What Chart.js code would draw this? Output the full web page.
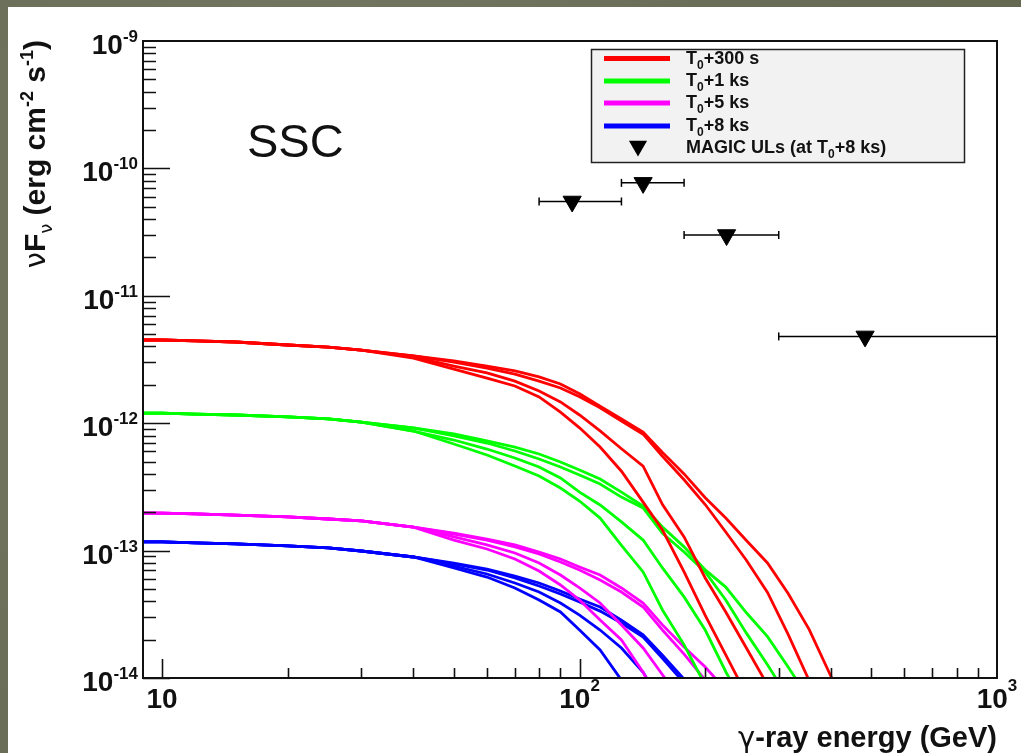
<!DOCTYPE html>
<html>
<head>
<meta charset="utf-8">
<script src="https://cdn.jsdelivr.net/npm/chart.js@4.4.0/dist/chart.umd.min.js"></script>
<style>
  html, body { margin: 0; padding: 0; }
  body { width: 1021px; height: 753px; overflow: hidden; position: relative;
         background: radial-gradient(circle at 30% 40%, #7a7e69 0%, #6a6e59 60%, #63674f 100%); }
  #panel { position: absolute; left: 8px; top: 7px; width: 1013px; height: 746px; background: #fff; }
  #sed { position: absolute; left: 0; top: 0; }
</style>
</head>
<body>
<div id="panel"></div>
<canvas id="sed" width="1021" height="753" style="width:1021px;height:753px"></canvas>
<script>
// energy grid (GeV) shared by the model curves
const energy = [9, 10, 12, 15, 20, 25, 30, 40, 50, 60, 70, 80, 90, 100, 112, 126, 142, 158, 178, 200, 224, 251, 282, 316, 355, 398, 447];

// nuFnu (erg cm-2 s-1), four model curves per epoch
const fluxT300s = [
  [4.5e-12, 4.5e-12, 4.42e-12, 4.34e-12, 4.11e-12, 3.96e-12, 3.75e-12, 3.37e-12, 3.08e-12, 2.81e-12, 2.57e-12, 2.31e-12, 2.03e-12, 1.70e-12, 1.36e-12, 1.08e-12, 8.5e-13, 5.9e-13, 4.0e-13, 2.6e-13, 1.8e-13, 1.2e-13, 8.0e-14, 4.6e-14, 2.4e-14, 1.07e-14, 4.7e-15],
  [4.5e-12, 4.5e-12, 4.42e-12, 4.34e-12, 4.11e-12, 3.96e-12, 3.75e-12, 3.37e-12, 3.02e-12, 2.71e-12, 2.43e-12, 2.14e-12, 1.89e-12, 1.61e-12, 1.32e-12, 1.04e-12, 8.2e-13, 5.5e-13, 3.6e-13, 2.3e-13, 1.4e-13, 8.4e-14, 4.7e-14, 2.2e-14, 9.5e-15],
  [4.5e-12, 4.5e-12, 4.42e-12, 4.34e-12, 4.11e-12, 3.96e-12, 3.75e-12, 3.31e-12, 2.81e-12, 2.48e-12, 2.14e-12, 1.79e-12, 1.47e-12, 1.16e-12, 8.7e-13, 6.3e-13, 4.6e-13, 2.3e-13, 1.28e-13, 6.1e-14, 3.3e-14, 1.72e-14, 8.8e-15],
  [4.5e-12, 4.5e-12, 4.42e-12, 4.34e-12, 4.11e-12, 3.96e-12, 3.75e-12, 3.24e-12, 2.66e-12, 2.26e-12, 1.96e-12, 1.61e-12, 1.22e-12, 9.2e-13, 6.5e-13, 4.2e-13, 2.4e-13, 1.45e-13, 6.8e-14, 3.1e-14, 1.52e-14, 7.4e-15]
];
const fluxT1ks = [
  [1.20e-12, 1.20e-12, 1.18e-12, 1.16e-12, 1.12e-12, 1.08e-12, 1.02e-12, 9.17e-13, 8.23e-13, 7.25e-13, 6.50e-13, 5.73e-13, 4.96e-13, 4.29e-13, 3.65e-13, 2.88e-13, 2.24e-13, 1.53e-13, 1.07e-13, 7.06e-14, 5.17e-14, 3.25e-14, 2.11e-14, 1.22e-14, 6.8e-15],
  [1.20e-12, 1.20e-12, 1.18e-12, 1.16e-12, 1.12e-12, 1.08e-12, 1.02e-12, 9.17e-13, 7.94e-13, 6.99e-13, 6.05e-13, 5.24e-13, 4.53e-13, 3.92e-13, 3.33e-13, 2.63e-13, 2.16e-13, 1.37e-13, 9.75e-14, 6.8e-14, 4.1e-14, 2.25e-14, 1.27e-14, 7.0e-15],
  [1.20e-12, 1.20e-12, 1.18e-12, 1.16e-12, 1.12e-12, 1.08e-12, 1.02e-12, 8.68e-13, 7.38e-13, 6.27e-13, 5.33e-13, 4.53e-13, 3.72e-13, 2.88e-13, 2.28e-13, 1.68e-13, 1.21e-13, 7.31e-14, 4.33e-14, 2.38e-14, 1.12e-14, 5.7e-15],
  [1.20e-12, 1.20e-12, 1.18e-12, 1.16e-12, 1.12e-12, 1.08e-12, 1.02e-12, 8.68e-13, 6.87e-13, 5.63e-13, 4.61e-13, 3.85e-13, 3.10e-13, 2.45e-13, 1.80e-13, 1.10e-13, 6.8e-14, 3.42e-14, 1.82e-14, 8.8e-15]
];
const fluxT5ks = [
  [1.97e-13, 1.97e-13, 1.94e-13, 1.90e-13, 1.84e-13, 1.77e-13, 1.71e-13, 1.53e-13, 1.37e-13, 1.23e-13, 1.11e-13, 9.75e-14, 8.59e-14, 7.44e-14, 6.43e-14, 5.09e-14, 3.88e-14, 2.61e-14, 1.75e-14, 1.22e-14, 8.06e-15],
  [1.97e-13, 1.97e-13, 1.94e-13, 1.90e-13, 1.84e-13, 1.77e-13, 1.71e-13, 1.53e-13, 1.35e-13, 1.21e-13, 1.07e-13, 9.40e-14, 8.14e-14, 7.04e-14, 5.88e-14, 4.73e-14, 3.61e-14, 2.38e-14, 1.54e-14, 9.63e-15],
  [1.97e-13, 1.97e-13, 1.94e-13, 1.90e-13, 1.84e-13, 1.77e-13, 1.71e-13, 1.53e-13, 1.28e-13, 1.11e-13, 9.58e-14, 7.99e-14, 6.43e-14, 5.09e-14, 3.88e-14, 2.61e-14, 1.72e-14, 1.06e-14, 6.14e-15],
  [1.97e-13, 1.97e-13, 1.94e-13, 1.90e-13, 1.84e-13, 1.77e-13, 1.71e-13, 1.53e-13, 1.21e-13, 1.03e-13, 8.59e-14, 6.92e-14, 5.37e-14, 4.10e-14, 2.85e-14, 1.99e-14, 1.11e-14, 5.8e-15]
];
const fluxT8ks = [
  [1.17e-13, 1.17e-13, 1.15e-13, 1.13e-13, 1.09e-13, 1.05e-13, 9.93e-14, 8.91e-14, 7.99e-14, 7.17e-14, 6.32e-14, 5.57e-14, 4.82e-14, 4.17e-14, 3.61e-14, 2.85e-14, 2.18e-14, 1.51e-14, 9.79e-15],
  [1.17e-13, 1.17e-13, 1.15e-13, 1.13e-13, 1.09e-13, 1.05e-13, 9.93e-14, 8.91e-14, 7.85e-14, 7.04e-14, 6.10e-14, 5.27e-14, 4.56e-14, 3.95e-14, 3.35e-14, 2.70e-14, 2.10e-14, 1.43e-14, 9.14e-15],
  [1.17e-13, 1.17e-13, 1.15e-13, 1.13e-13, 1.09e-13, 1.05e-13, 9.93e-14, 8.91e-14, 7.57e-14, 6.55e-14, 5.57e-14, 4.73e-14, 3.88e-14, 3.12e-14, 2.38e-14, 1.72e-14, 1.11e-14, 6.14e-15],
  [1.17e-13, 1.17e-13, 1.15e-13, 1.13e-13, 1.09e-13, 1.05e-13, 9.93e-14, 8.91e-14, 7.30e-14, 6.20e-14, 5.09e-14, 4.10e-14, 3.30e-14, 2.38e-14, 1.66e-14, 9.63e-15]
];

// MAGIC upper limits at T0+8 ks
const ulEnergy = [96, 142, 225, 483];
const ulLow = [80, 126, 178, 300];
const ulHigh = [126, 178, 300, 1200];
const ulFlux = [5.5e-11, 7.7e-11, 3.0e-11, 4.8e-12];

const legendLabels = ['T_0+300 s', 'T_0+1 ks', 'T_0+5 ks', 'T_0+8 ks', 'MAGIC ULs (at T_0+8 ks)'];
const seriesColors = ['#ff0000', '#00ff00', '#ff00ff', '#0000ff'];

// axis tick labels
const xTickValues = [10, 100, 1000];
const xTickExp = ['', '2', '3'];
const yTickValues = [1e-9, 1e-10, 1e-11, 1e-12, 1e-13, 1e-14];
const yTickExp = ['-9', '-10', '-11', '-12', '-13', '-14'];

const FONT = '"Liberation Sans", Arial, Helvetica, sans-serif';
const GREEK = '"DejaVu Sans", ' + FONT;

// draw a run of text pieces (for sub/superscripts)
function pieceFont(p) {
  return (p.weight || 'bold') + ' ' + p.size + 'px ' + (p.family || FONT);
}
function richWidth(ctx, parts) {
  let w = 0;
  parts.forEach(p => {
    ctx.font = pieceFont(p);
    w += ctx.measureText(p.text).width;
  });
  return w;
}
function drawRich(ctx, parts, x, y, align) {
  const w = richWidth(ctx, parts);
  let cx = align === 'right' ? x - w : (align === 'center' ? x - w / 2 : x);
  ctx.textAlign = 'left';
  ctx.textBaseline = 'alphabetic';
  parts.forEach(p => {
    ctx.font = pieceFont(p);
    ctx.fillText(p.text, cx, y + (p.dy || 0));
    cx += ctx.measureText(p.text).width;
  });
}
function withSub(label, size, subSize) {
  const bits = label.split('_0');
  const parts = [];
  bits.forEach((b, i) => {
    if (i > 0) parts.push({ text: '0', size: subSize, dy: 5 });
    if (b) parts.push({ text: b, size: size });
  });
  return parts;
}
function downTriangle(ctx, x, y, r) {
  ctx.beginPath();
  ctx.moveTo(x, y + r);
  ctx.lineTo(x - r * 0.866, y - r / 2);
  ctx.lineTo(x + r * 0.866, y - r / 2);
  ctx.closePath();
  ctx.fill();
}

// ROOT-like frame, inward ticks, labels, titles and legend
const rootPlugin = {
  id: 'rootFrame',
  afterDatasetsDraw(chart) {
    const { ctx, chartArea: a, scales: { x, y } } = chart;
    ctx.save();
    ctx.strokeStyle = '#111';
    ctx.fillStyle = '#111';
    ctx.lineWidth = 1.6;

    ctx.beginPath();
    for (let e = -14; e < -9; e++) {
      for (let m = 1; m < 10; m++) {
        const py = Math.round(y.getPixelForValue(m * Math.pow(10, e))) + 0.5;
        const len = m === 1 ? 27 : 13;
        ctx.moveTo(a.left, py); ctx.lineTo(a.left + len, py);
      }
    }
    for (let e = 1; e < 3; e++) {
      for (let m = 1; m < 10; m++) {
        const px = Math.round(x.getPixelForValue(m * Math.pow(10, e))) + 0.5;
        const len = m === 1 ? 19 : 10;
        ctx.moveTo(px, a.bottom); ctx.lineTo(px, a.bottom - len);
      }
    }
    ctx.stroke();

    ctx.lineWidth = 2;
    ctx.strokeRect(a.left, a.top, a.right - a.left, a.bottom - a.top);

    // tick labels
    yTickValues.forEach((v, i) => {
      const py = y.getPixelForValue(v);
      drawRich(ctx, [{ text: '10', size: 28 }, { text: yTickExp[i], size: 17, dy: -12 }], 138, py + 13, 'right');
    });
    xTickValues.forEach((v, i) => {
      const px = x.getPixelForValue(v);
      const parts = [{ text: '10', size: 28 }];
      if (xTickExp[i]) parts.push({ text: xTickExp[i], size: 17, dy: -17 });
      drawRich(ctx, parts, px, 708, 'center');
    });

    // axis titles
    drawRich(ctx, [
      { text: '\u03b3', size: 29, weight: 'normal', family: GREEK },
      { text: '-ray energy (GeV)', size: 29 }
    ], a.right, 747, 'right');
    ctx.save();
    ctx.translate(45, 40);
    ctx.rotate(-Math.PI / 2);
    drawRich(ctx, [
      { text: '\u03bd', size: 29, weight: 'normal', family: GREEK }, { text: 'F', size: 30 },
      { text: '\u03bd', size: 18, weight: 'normal', family: GREEK, dy: 7 },
      { text: ' (erg cm', size: 30 }, { text: '-2', size: 18, dy: -12 },
      { text: ' s', size: 30 }, { text: '-1', size: 18, dy: -12 },
      { text: ')', size: 30 }
    ], 0, 0, 'right');
    ctx.restore();

    // SSC label
    ctx.font = 'normal 47px ' + FONT;
    ctx.fillText('SSC', 247, 157);

    // legend box
    ctx.fillStyle = '#f2f2f2';
    ctx.fillRect(591, 49, 374, 114);
    ctx.lineWidth = 1.5;
    ctx.strokeStyle = '#222';
    ctx.strokeRect(591.5, 49.5, 373, 113);
    const rows = [58.5, 81, 103, 126, 148];
    seriesColors.forEach((c, i) => {
      ctx.strokeStyle = c;
      ctx.lineWidth = 5;
      ctx.beginPath();
      ctx.moveTo(604, rows[i]); ctx.lineTo(670, rows[i]);
      ctx.stroke();
    });
    ctx.fillStyle = '#000';
    downTriangle(ctx, 638, 146, 10.5);
    ctx.fillStyle = '#111';
    legendLabels.forEach((lab, i) => {
      drawRich(ctx, withSub(lab, 18, 12), 686, rows[i] + 5, 'left');
    });
    ctx.restore();
  }
};

const datasets = [];
[fluxT300s, fluxT1ks, fluxT5ks, fluxT8ks].forEach((group, g) => {
  group.forEach(vals => {
    datasets.push({
      label: legendLabels[g],
      data: vals.map((v, i) => ({ x: energy[i], y: v })),
      borderColor: seriesColors[g],
      borderWidth: 2.8,
      pointRadius: 0,
      tension: 0,
      clip: 0
    });
  });
});
// horizontal bin bars of the upper limits
ulFlux.forEach((f, i) => {
  datasets.push({
    label: 'UL bin',
    data: [{ x: ulLow[i], y: f }, { x: ulHigh[i], y: f }],
    borderColor: '#000',
    borderWidth: 1.5,
    pointStyle: 'line',
    rotation: 90,
    pointRadius: 4,
    pointBorderColor: '#000',
    pointBorderWidth: 1.5,
    clip: 0
  });
});
datasets.push({
  label: legendLabels[4],
  data: ulEnergy.map((e, i) => ({ x: e, y: ulFlux[i] })),
  showLine: false,
  pointStyle: 'triangle',
  rotation: 180,
  pointRadius: 10.5,
  pointBackgroundColor: '#000',
  pointBorderColor: '#000',
  pointBorderWidth: 1,
  clip: 0
});

new Chart(document.getElementById('sed'), {
  type: 'line',
  data: { datasets: datasets },
  options: {
    responsive: false,
    animation: false,
    events: [],
    layout: { padding: { left: 143, top: 41, right: 24, bottom: 75 } },
    scales: {
      x: { type: 'logarithmic', min: 9, max: 1000, display: false },
      y: { type: 'logarithmic', min: 1e-14, max: 1e-9, display: false }
    },
    plugins: { legend: { display: false }, tooltip: { enabled: false } }
  },
  plugins: [rootPlugin]
});
</script>
</body>
</html>
